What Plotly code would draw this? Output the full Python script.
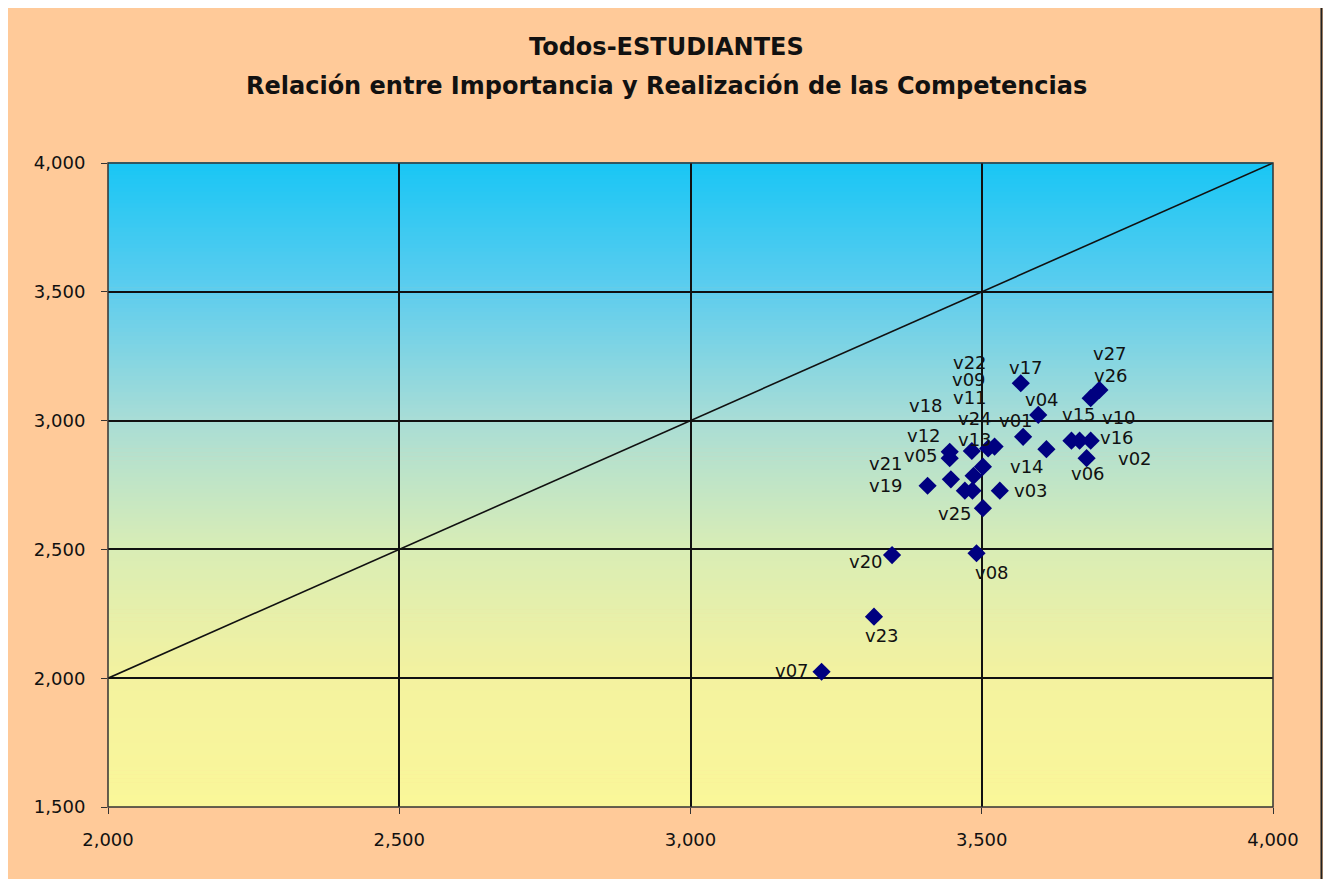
import plotly.graph_objects as go

# ---- data ----
labels = ["v01","v02","v03","v04","v05","v06","v07","v08","v09","v10","v11","v12","v13","v14",
          "v15","v16","v17","v18","v19","v20","v21","v22","v23","v24","v25","v26","v27"]
importancia = [3.571,3.680,3.531,3.597,3.445,3.611,3.225,3.491,3.484,3.668,3.522,3.445,3.483,3.502,
               3.654,3.687,3.567,3.486,3.407,3.346,3.447,3.471,3.315,3.511,3.502,3.702,3.687]
realizacion = [2.937,2.854,2.728,3.022,2.854,2.889,2.025,2.485,2.728,2.922,2.899,2.879,2.882,2.821,
               2.922,2.922,3.145,2.786,2.747,2.478,2.772,2.728,2.239,2.892,2.660,3.119,3.087]
diag_x = [2.0, 4.0]
diag_y = [2.0, 4.0]
tick_vals_x = [2.0, 2.5, 3.0, 3.5, 4.0]
tick_text_x = ["2,000","2,500","3,000","3,500","4,000"]
tick_vals_y = [1.5, 2.0, 2.5, 3.0, 3.5, 4.0]
tick_text_y = ["1,500","2,000","2,500","3,000","3,500","4,000"]
title_lines = ["Todos-ESTUDIANTES", "Relación entre Importancia y Realización de las Competencias"]

# label offsets in pixels (dx right, dy down)
label_offsets = {
    "v17": (5,-16), "v26": (12,-14), "v27": (19,-45), "v04": (4,-15), "v01": (-7,-16),
    "v15": (8,-26), "v10": (39,-23), "v16": (26,-3), "v06": (42,24), "v02": (48,0),
    "v12": (-26,-16), "v05": (-29,-3), "v13": (3,-12), "v24": (-13,-30), "v11": (-25,-49),
    "v14": (44,0), "v18": (-48,-70), "v21": (-65,-16), "v19": (-42,0), "v22": (5,-128),
    "v09": (-3,-111), "v03": (31,0), "v25": (-28,5), "v20": (-26,6), "v08": (15,19),
    "v23": (8,19), "v07": (-30,-1),
}

FONT = "DejaVu Sans, Arial, sans-serif"

fig = go.Figure()
fig.add_trace(go.Scatter(x=diag_x, y=diag_y, mode="lines",
                         line=dict(color="#111111", width=1.6), hoverinfo="skip", showlegend=False))
fig.add_trace(go.Scatter(x=importancia, y=realizacion, mode="markers", text=labels,
                         marker=dict(symbol="diamond", size=14, color="#000080",
                                     line=dict(width=0)),
                         showlegend=False))

annotations = []
for lab, xv, yv in zip(labels, importancia, realizacion):
    dx, dy = label_offsets[lab]
    annotations.append(dict(x=xv, y=yv, xref="x", yref="y", text=lab, showarrow=False,
                            xshift=dx, yshift=-dy,
                            font=dict(family=FONT, size=18, color="#111111")))
# title lines
annotations.append(dict(x=0.4796, y=1.180, xref="paper", yref="paper", text="<b>" + title_lines[0] + "</b>",
                        showarrow=False, xanchor="center", yanchor="middle",
                        font=dict(family=FONT, size=24, color="#111111")))
annotations.append(dict(x=0.4796, y=1.1196, xref="paper", yref="paper", text="<b>" + title_lines[1] + "</b>",
                        showarrow=False, xanchor="center", yanchor="middle",
                        font=dict(family=FONT, size=24, color="#111111")))

# gradient background for plot area
stops = [(0.0, (250, 247, 153)), (0.2, (244, 242, 159)), (0.4, (217, 237, 181)),
         (0.6, (169, 221, 214)), (0.8, (94, 205, 238)), (1.0, (25, 198, 245))]
def col_at(t):
    for (t0, c0), (t1, c1) in zip(stops[:-1], stops[1:]):
        if t0 <= t <= t1:
            f = (t - t0) / (t1 - t0)
            return "rgb(%d,%d,%d)" % tuple(round(a + (b - a) * f) for a, b in zip(c0, c1))
    return "rgb(%d,%d,%d)" % stops[-1][1]

shapes = []
N = 160
for i in range(N):
    y0 = i / N
    y1 = (i + 1) / N
    shapes.append(dict(type="rect", xref="paper", yref="paper", x0=0, x1=1, y0=y0, y1=y1 + 0.001,
                       fillcolor=col_at((y0 + y1) / 2), line=dict(width=0), layer="below"))
# plot area border
shapes.append(dict(type="rect", xref="paper", yref="paper", x0=0, x1=1, y0=0, y1=1,
                   line=dict(color="#333333", width=1.5), layer="above"))
# outer chart border
shapes.append(dict(type="rect", xref="paper", yref="paper", x0=-0.0867, x1=1.0416, y0=-0.125, y1=1.2453,
                   line=dict(color="#222222", width=2), layer="above"))

fig.update_layout(
    width=1331, height=879,
    margin=dict(l=100, r=66, t=155, b=80),
    paper_bgcolor="#FFCA99",
    plot_bgcolor="rgba(0,0,0,0)",
    xaxis=dict(range=[2.0, 4.0], tickvals=tick_vals_x, ticktext=tick_text_x,
               showgrid=True, gridcolor="#111111", gridwidth=1.5, zeroline=False,
               ticks="outside", ticklen=6, tickcolor="#333333", ticklabelstandoff=10,
               tickfont=dict(family=FONT, size=18, color="#111111")),
    yaxis=dict(range=[1.5, 4.0], tickvals=tick_vals_y, ticktext=tick_text_y,
               showgrid=True, gridcolor="#111111", gridwidth=1.5, zeroline=False,
               ticks="outside", ticklen=6, tickcolor="#333333", ticklabelstandoff=12,
               tickfont=dict(family=FONT, size=18, color="#111111")),
    shapes=shapes,
    annotations=annotations,
    showlegend=False,
)

fig.write_html("out.html")
